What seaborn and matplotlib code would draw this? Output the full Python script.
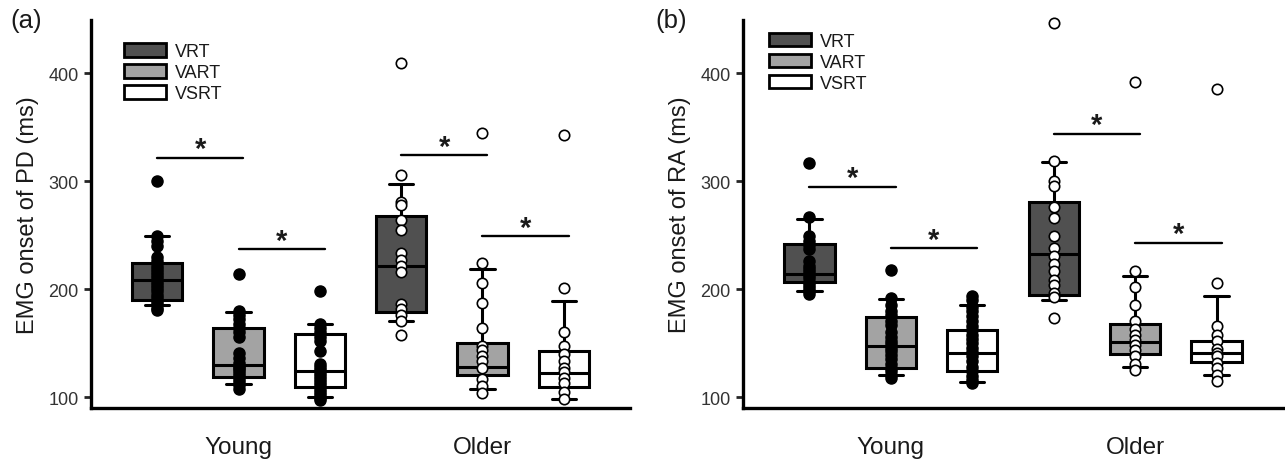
import numpy as np
import pandas as pd
import matplotlib
matplotlib.use("Agg")
import matplotlib.pyplot as plt
from matplotlib.patches import Patch
import seaborn as sns

# ---------------- data ----------------
groups = ["Young", "Older"]
conditions = ["VRT", "VART", "VSRT"]
fills = {"VRT": "#505050", "VART": "#a3a3a3", "VSRT": "#ffffff"}

# Panel (a): EMG onset of PD (ms) - individual values
pd_young_vrt = [300, 249, 245, 240, 230, 226, 222, 219, 216, 213, 210, 207, 204,
                201, 198, 195, 192, 189, 186, 183, 181]
pd_young_vart = [214, 180, 176, 172, 168, 164, 160, 156, 141, 136, 132, 129, 127,
                 125, 122, 120, 117, 114, 111, 108]
pd_young_vsrt = [198, 168, 164, 160, 156, 152, 143, 131, 128, 125, 122, 120, 117,
                 114, 111, 108, 105, 102, 99, 97]
pd_older_vrt = [410, 306, 281, 278, 264, 255, 234, 227, 222, 216, 186, 182, 176, 171, 158]
pd_older_vart = [345, 224, 206, 187, 164, 147, 144, 138, 134, 127, 117, 110, 104]
pd_older_vsrt = [343, 201, 160, 147, 140, 134, 127, 123, 118, 113, 105, 98]

# Panel (a) box statistics (order: Young VRT, VART, VSRT, Older VRT, VART, VSRT)
pd_whislo = [185, 112, 100, 171, 108, 98]
pd_q1 = [190, 119, 109, 179, 121, 109]
pd_med = [209, 130, 124, 222, 128, 122]
pd_q3 = [224, 164, 159, 268, 150, 143]
pd_whishi = [249, 179, 168, 298, 219, 189]
pd_sig = [("Young", "VRT", "VART", 322), ("Young", "VART", "VSRT", 237),
          ("Older", "VRT", "VART", 324), ("Older", "VART", "VSRT", 249)]

# Panel (b): EMG onset of RA (ms) - individual values
ra_young_vrt = [317, 267, 249, 245, 241, 237, 226, 222, 219, 216, 213, 210, 207,
                204, 201, 198, 196]
ra_young_vart = [218, 192, 185, 180, 176, 171, 167, 160, 156, 152, 149, 146, 143,
                 139, 135, 131, 127, 124, 121, 118]
ra_young_vsrt = [194, 190, 184, 180, 175, 171, 166, 162, 158, 154, 150, 146, 142,
                 138, 134, 128, 124, 120, 116, 113]
ra_older_vrt = [447, 319, 300, 296, 276, 266, 249, 238, 231, 223, 217, 209, 204,
                197, 193, 173]
ra_older_vart = [392, 217, 202, 185, 171, 163, 158, 153, 148, 144, 138, 131, 125]
ra_older_vsrt = [386, 206, 166, 158, 152, 145, 141, 138, 132, 127, 121, 115]

ra_whislo = [198, 121, 114, 190, 128, 121]
ra_q1 = [207, 127, 124, 195, 140, 133]
ra_med = [214, 147, 141, 233, 151, 141]
ra_q3 = [242, 174, 162, 281, 168, 152]
ra_whishi = [265, 191, 185, 318, 212, 194]
ra_sig = [("Young", "VRT", "VART", 295), ("Young", "VART", "VSRT", 238),
          ("Older", "VRT", "VART", 344), ("Older", "VART", "VSRT", 243)]

y_ticks = [100, 200, 300, 400]

# ---------------- style ----------------
sns.set_style("ticks")
plt.rcParams["font.family"] = ["Liberation Sans", "DejaVu Sans"]
TXT = "#1a1a1a"

offsets = {"VRT": -1 / 3, "VART": 0.0, "VSRT": 1 / 3}
BOX_W = 0.206
CAP_W = 0.10


def long_frame(values):
    rows = []
    for (g, c), vals in values.items():
        for v in vals:
            rows.append({"group": g, "cond": c, "value": v,
                         "pos": groups.index(g) + offsets[c]})
    return pd.DataFrame(rows)


def draw_panel(ax, values, whislo, q1, med, q3, whishi, sig, ylabel, leg_anchor):
    df = long_frame(values)
    keys = [(g, c) for g in groups for c in conditions]
    stats, positions, colors = [], [], []
    for i, (g, c) in enumerate(keys):
        stats.append({"whislo": whislo[i], "q1": q1[i], "med": med[i],
                      "q3": q3[i], "whishi": whishi[i], "fliers": []})
        positions.append(groups.index(g) + offsets[c])
        colors.append(fills[c])
    bp = ax.bxp(stats, positions=positions, widths=BOX_W, capwidths=CAP_W,
                patch_artist=True, showfliers=False,
                boxprops=dict(edgecolor="black", linewidth=2.2),
                medianprops=dict(color="black", linewidth=2.2),
                whiskerprops=dict(color="black", linewidth=2.2),
                capprops=dict(color="black", linewidth=2.2),
                manage_ticks=False)
    for patch, col in zip(bp["boxes"], colors):
        patch.set_facecolor(col)

    young = df[df["group"] == "Young"]
    older = df[df["group"] == "Older"]
    sns.scatterplot(data=young, x="pos", y="value", ax=ax, color="black",
                    edgecolor="black", linewidth=1.0, s=64, zorder=5, legend=False,
                    clip_on=False)
    sns.scatterplot(data=older, x="pos", y="value", ax=ax, color="white",
                    edgecolor="black", linewidth=1.2, s=56, zorder=5, legend=False,
                    clip_on=False)

    for g, c1, c2, h in sig:
        x1 = groups.index(g) + offsets[c1]
        x2 = groups.index(g) + offsets[c2] + 0.02
        ax.plot([x1, x2], [h, h], color="black", linewidth=1.7, zorder=3)
        ax.text((x1 + x2) / 2, h + 8, "*", ha="center", va="center",
                fontsize=21, fontweight="bold", color=TXT)

    ax.set_xlim(-0.605, 1.605)
    ax.set_ylim(90, 449.5)
    ax.set_yticks(y_ticks)
    ax.set_xticks(range(len(groups)))
    ax.set_xticklabels(groups)
    ax.set_xlabel("")
    ax.set_ylabel(ylabel, fontsize=17, color=TXT, labelpad=7)
    ax.tick_params(axis="y", length=5, width=2, direction="out", labelsize=13,
                   labelcolor="#333333", pad=4)
    ax.tick_params(axis="x", length=0, labelsize=17.5, labelcolor=TXT, pad=20)
    for s in ["top", "right"]:
        ax.spines[s].set_visible(False)
    for s in ["left", "bottom"]:
        ax.spines[s].set_linewidth(2.4)
        ax.spines[s].set_color("black")

    handles = [Patch(facecolor=fills[c], edgecolor="black", linewidth=2.0) for c in conditions]
    ax.legend(handles, conditions, loc="upper left", bbox_to_anchor=leg_anchor,
              frameon=False, fontsize=13, handlelength=2.35, handleheight=0.75,
              handletextpad=0.5, labelspacing=0.22, borderpad=0, borderaxespad=0,
              labelcolor=TXT)


fig = plt.figure(figsize=(12.85, 4.6), dpi=100)
H = 460.0
W = 1285.0
ax_a = fig.add_axes([91 / W, 1 - 409 / H, 539 / W, 388 / H])
ax_b = fig.add_axes([743 / W, 1 - 409 / H, 540 / W, 388 / H])

pd_values = {("Young", "VRT"): pd_young_vrt, ("Young", "VART"): pd_young_vart,
             ("Young", "VSRT"): pd_young_vsrt, ("Older", "VRT"): pd_older_vrt,
             ("Older", "VART"): pd_older_vart, ("Older", "VSRT"): pd_older_vsrt}
ra_values = {("Young", "VRT"): ra_young_vrt, ("Young", "VART"): ra_young_vart,
             ("Young", "VSRT"): ra_young_vsrt, ("Older", "VRT"): ra_older_vrt,
             ("Older", "VART"): ra_older_vart, ("Older", "VSRT"): ra_older_vsrt}

draw_panel(ax_a, pd_values, pd_whislo, pd_q1, pd_med, pd_q3, pd_whishi, pd_sig,
           "EMG onset of PD (ms)", (0.061, 0.94))
draw_panel(ax_b, ra_values, ra_whislo, ra_q1, ra_med, ra_q3, ra_whishi, ra_sig,
           "EMG onset of RA (ms)", (0.048, 0.967))

fig.text(26 / W, 1 - 21 / H, "(a)", fontsize=18.5, ha="center", va="center", color=TXT)
fig.text(671 / W, 1 - 21 / H, "(b)", fontsize=18.5, ha="center", va="center", color=TXT)

fig.savefig("out.png", dpi=100)
